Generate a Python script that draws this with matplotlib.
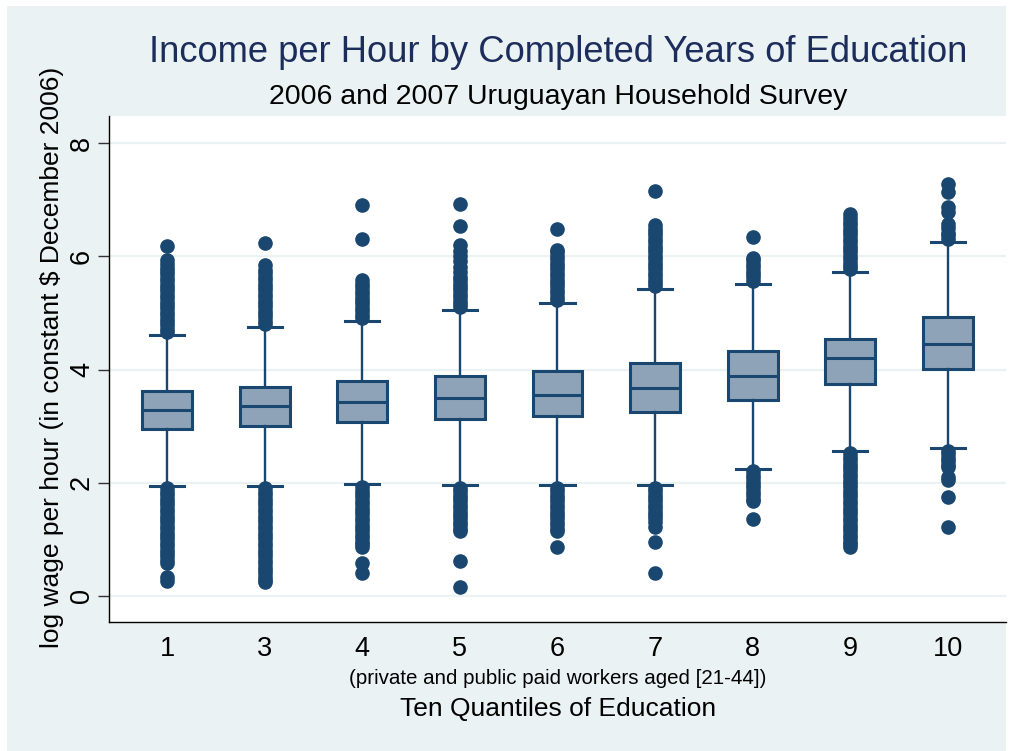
import matplotlib
matplotlib.use("Agg")
import matplotlib.pyplot as plt
from matplotlib.patches import Rectangle

plt.rcParams['font.family'] = ['Liberation Sans', 'DejaVu Sans']

# education quantile groups (group 2 is absent in the survey split)
groups = ['1', '3', '4', '5', '6', '7', '8', '9', '10']

# box statistics, log wage per hour
q1 = [2.95, 3.01, 3.07, 3.12, 3.18, 3.25, 3.47, 3.75, 4.01]
median = [3.29, 3.35, 3.42, 3.49, 3.55, 3.67, 3.89, 4.21, 4.46]
q3 = [3.62, 3.70, 3.79, 3.89, 3.98, 4.12, 4.33, 4.54, 4.92]
whisk_lo = [1.94, 1.94, 1.97, 1.96, 1.96, 1.96, 2.25, 2.57, 2.61]
whisk_hi = [4.61, 4.76, 4.86, 5.05, 5.18, 5.42, 5.52, 5.72, 6.26]

# outside values per group
out_1 = [4.66, 4.72, 4.78, 4.84, 4.90, 4.96, 5.02, 5.08, 5.14, 5.20, 5.26,
         5.32, 5.38, 5.44, 5.50, 5.56, 5.62, 5.68, 5.74, 5.80, 5.86, 5.94,
         6.19,
         1.90, 1.84, 1.78, 1.72, 1.66, 1.60, 1.54, 1.48, 1.42, 1.36, 1.30,
         1.24, 1.18, 1.12, 1.06, 1.00, 0.94, 0.88, 0.82, 0.76, 0.70, 0.64,
         0.58, 0.33, 0.26]
out_3 = [4.80, 4.86, 4.92, 4.98, 5.04, 5.10, 5.16, 5.22, 5.28, 5.34, 5.40,
         5.46, 5.52, 5.58, 5.64, 5.70, 5.76, 5.84, 6.23,
         1.90, 1.84, 1.78, 1.72, 1.66, 1.60, 1.54, 1.48, 1.42, 1.36, 1.30,
         1.24, 1.18, 1.12, 1.06, 1.00, 0.94, 0.88, 0.82, 0.76, 0.70, 0.64,
         0.58, 0.52, 0.46, 0.40, 0.34, 0.29, 0.25]
out_4 = [4.91, 4.97, 5.03, 5.09, 5.15, 5.21, 5.27, 5.33, 5.39, 5.45, 5.52,
         5.58, 6.31, 6.91,
         1.92, 1.86, 1.80, 1.74, 1.68, 1.62, 1.56, 1.50, 1.44, 1.38, 1.32,
         1.26, 1.20, 1.14, 1.08, 1.02, 0.96, 0.91, 0.87, 0.58, 0.40]
out_5 = [5.10, 5.16, 5.22, 5.28, 5.34, 5.40, 5.46, 5.52, 5.58, 5.64, 5.73,
         5.82, 5.91, 6.00, 6.10, 6.20, 6.54, 6.93,
         1.91, 1.85, 1.79, 1.73, 1.67, 1.61, 1.55, 1.49, 1.43, 1.37, 1.31,
         1.25, 1.19, 1.14, 0.62, 0.15]
out_6 = [5.23, 5.29, 5.35, 5.41, 5.47, 5.53, 5.59, 5.65, 5.71, 5.77, 5.83,
         5.89, 5.95, 6.01, 6.07, 6.11, 6.49,
         1.91, 1.85, 1.79, 1.73, 1.67, 1.61, 1.55, 1.49, 1.43, 1.37, 1.31,
         1.25, 1.19, 1.14, 0.87]
out_7 = [5.47, 5.53, 5.59, 5.65, 5.71, 5.77, 5.83, 5.89, 5.95, 6.01, 6.07,
         6.13, 6.19, 6.25, 6.31, 6.37, 6.43, 6.49, 6.55, 7.16,
         1.91, 1.85, 1.79, 1.73, 1.67, 1.61, 1.55, 1.49, 1.43, 1.37, 1.30,
         1.22, 0.96, 0.41]
out_8 = [5.57, 5.63, 5.69, 5.75, 5.81, 5.87, 5.93, 5.97, 6.35,
         2.20, 2.14, 2.08, 2.02, 1.96, 1.90, 1.84, 1.78, 1.72, 1.67, 1.36]
out_9 = [5.77, 5.83, 5.89, 5.95, 6.01, 6.07, 6.13, 6.19, 6.25, 6.31, 6.37,
         6.43, 6.49, 6.55, 6.61, 6.67, 6.75,
         2.52, 2.46, 2.40, 2.34, 2.28, 2.22, 2.16, 2.10, 2.04, 1.98, 1.92,
         1.86, 1.80, 1.74, 1.68, 1.62, 1.56, 1.50, 1.44, 1.38, 1.32, 1.26,
         1.20, 1.14, 1.08, 1.02, 0.96, 0.91, 0.87]
out_10 = [6.31, 6.37, 6.42, 6.50, 6.57, 6.79, 6.87, 7.13, 7.28,
          2.56, 2.50, 2.44, 2.38, 2.32, 2.28, 2.10, 2.05, 1.75, 1.22]
outliers = [out_1, out_3, out_4, out_5, out_6, out_7, out_8, out_9, out_10]

navy = '#1A476F'
fill = '#8EA3B8'
panel = '#EAF2F3'

fig = plt.figure(figsize=(10.26, 7.51), dpi=100)
fig.patch.set_facecolor('white')
fig.patches.append(Rectangle((7 / 1026, 0), 999 / 1026, 1 - 6 / 751,
                             transform=fig.transFigure, facecolor=panel,
                             edgecolor='none', zorder=-10))

ax = fig.add_axes([109 / 1026, 1 - 622 / 751, 897 / 1026, 506 / 751])
ax.set_facecolor('white')

stats = []
for i in range(len(groups)):
    stats.append(dict(q1=q1[i], med=median[i], q3=q3[i],
                      whislo=whisk_lo[i], whishi=whisk_hi[i],
                      fliers=outliers[i], label=groups[i]))

ax.bxp(stats, positions=range(1, len(groups) + 1), widths=0.51,
       capwidths=0.35, patch_artist=True, showfliers=True,
       boxprops=dict(facecolor=fill, edgecolor=navy, linewidth=2.2),
       medianprops=dict(color=navy, linewidth=2.2),
       whiskerprops=dict(color=navy, linewidth=1.7),
       capprops=dict(color=navy, linewidth=2.2),
       flierprops=dict(marker='o', markersize=9.5, markerfacecolor=navy,
                       markeredgecolor=navy, linestyle='none'))

ax.set_xlim(0.405, 9.595)
ax.set_ylim(-0.46, 8.48)
ax.set_yticks([0, 2, 4, 6, 8])
ax.grid(axis='y', color=panel, linewidth=1.6)
ax.set_axisbelow(True)

for s in ['top', 'right']:
    ax.spines[s].set_visible(False)
for s in ['left', 'bottom']:
    ax.spines[s].set_color('black')
    ax.spines[s].set_linewidth(1.0)

ax.tick_params(axis='x', length=0, pad=10, labelsize=19.5)
ax.tick_params(axis='y', length=8, width=1.0, color='#333333', pad=2,
               labelsize=19.5)
for lab in ax.get_yticklabels():
    lab.set_rotation(90)
    lab.set_va('center')

ax.set_ylabel('log wage per hour (in constant $ December 2006)',
              fontsize=19)
ax.yaxis.set_label_coords((52 - 109) / 897, (622 - 357) / 506)
ax.yaxis.label.set_va('center')

fig.text(558 / 1026, 1 - 53 / 751,
         'Income per Hour by Completed Years of Education',
         ha='center', va='center', fontsize=26.2, color='#1C2C5B')
fig.text(558 / 1026, 1 - 97 / 751, '2006 and 2007 Uruguayan Household Survey',
         ha='center', va='center', fontsize=20.5, color='black')
fig.text(558 / 1026, 1 - 678 / 751,
         '(private and public paid workers aged [21-44])',
         ha='center', va='center', fontsize=14.8, color='black')
fig.text(558 / 1026, 1 - 709 / 751, 'Ten Quantiles of Education',
         ha='center', va='center', fontsize=19, color='black')

fig.savefig('out.png', dpi=100)
